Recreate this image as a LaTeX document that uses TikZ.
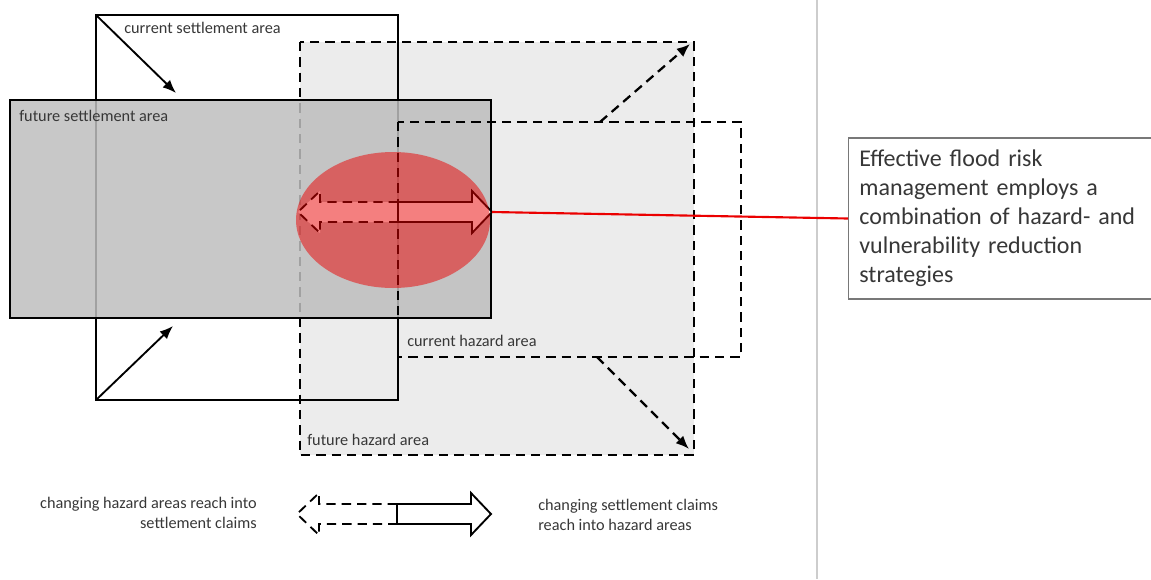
\documentclass[tikz,border=0pt]{standalone}
\usepackage{fontspec}
\setmainfont{Carlito}
\usetikzlibrary{arrows.meta,%
                shapes.geometric}
\definecolor{hazgray}{RGB}{236,236,236}
\definecolor{settlegray}{RGB}{190,190,190}
\definecolor{txtgray}{RGB}{55,55,55}
\definecolor{floodred}{RGB}{235,0,0}
\definecolor{rulegray}{RGB}{205,205,205}
\definecolor{boxgray}{RGB}{120,120,120}

\begin{document}
\begin{tikzpicture}[x=0.75pt,y=-0.75pt,
  SolidEdge/.style={line width=1.4pt},
  DashEdge/.style={line width=1.7pt,dash pattern=on 7pt off 4.5pt},
  AreaLabel/.style={font=\fontsize{12.2}{15}\selectfont,text=txtgray,inner sep=0pt},
  TipStyle/.style={-{Latex[length=10pt,width=8pt]}},
  reach/.pic={
    \filldraw[fill=white,DashEdge,line width=1.4pt]
      (0,-10) -- (-78,-10) -- (-78,-21) -- (-100,0) -- (-78,21) -- (-78,10) -- (0,10);
    \filldraw[fill=white,SolidEdge]
      (0,-10) -- (74,-10) -- (74,-21) -- (94,0) -- (74,21) -- (74,10) -- (0,10) -- cycle;
    \coordinate (-tip) at (94,0);
  }]
  \useasboundingbox (0,0) rectangle (1151,579);
  % areas
  \filldraw[fill=hazgray,DashEdge] (300,42) rectangle (694,455);
  \draw[SolidEdge] (96,15) rectangle (398,400);
  \filldraw[fill=settlegray,fill opacity=0.85,SolidEdge] (10,100) rectangle (491,318);
  \draw[DashEdge] (398,122) rectangle (741,357);
  % labels
  \node[AreaLabel,anchor=west] (lblcs) at (124,28) {current settlement area};
  \node[AreaLabel,anchor=west] (lblfs) at (19,116) {future settlement area};
  \node[AreaLabel,anchor=west] (lblch) at (407,341) {current hazard area};
  \node[AreaLabel,anchor=west] (lblfh) at (307,440) {future hazard area};
  % growth arrows
  \coordinate (csTop) at (96,15);
  \coordinate (csTopEnd) at (176,93);
  \coordinate (csBot) at (96,400);
  \coordinate (csBotEnd) at (173,326);
  \coordinate (chTop) at (600,122);
  \coordinate (chTopEnd) at (690,44);
  \coordinate (chBot) at (597,357);
  \coordinate (chBotEnd) at (689,449);
  \draw[SolidEdge,TipStyle] (csTop) -- (csTopEnd);
  \draw[SolidEdge,TipStyle] (csBot) -- (csBotEnd);
  \draw[DashEdge,TipStyle] (chTop) -- (chTopEnd);
  \draw[DashEdge,TipStyle] (chBot) -- (chBotEnd);
  % overlap
  \pic (mid) at (398,212) {reach};
  \node[ellipse,fill=floodred,fill opacity=0.5,inner sep=0pt,
        minimum width=145.5pt,minimum height=102pt] (risk) at (393,220) {};
  % divider
  \coordinate (ruleTop) at (817,0);
  \coordinate (ruleBot) at (817,579);
  \draw[rulegray,line width=1pt] (ruleTop) -- (ruleBot);
  % note
  \node[draw=boxgray,line width=1pt,fill=white,anchor=west,
        minimum width=228pt,minimum height=120.75pt,inner xsep=7.5pt,
        text width=212pt,align=left,text=txtgray,
        font=\fontsize{18}{21.8}\selectfont] (note) at (848,218.5)
    {Effective flood risk\\management employs a\\combination of hazard- and\\vulnerability reduction\\strategies};
  \draw[floodred,line width=1.6pt] (mid-tip) -- (note.west);
  % legend
  \pic (key) at (397,514) {reach};
  \node[AreaLabel,anchor=east,align=right] (keyleft) at (257,513)
    {changing hazard areas reach into\\settlement claims};
  \node[AreaLabel,anchor=west,align=left] (keyright) at (538,515)
    {changing settlement claims\\reach into hazard areas};
\end{tikzpicture}
\end{document}
